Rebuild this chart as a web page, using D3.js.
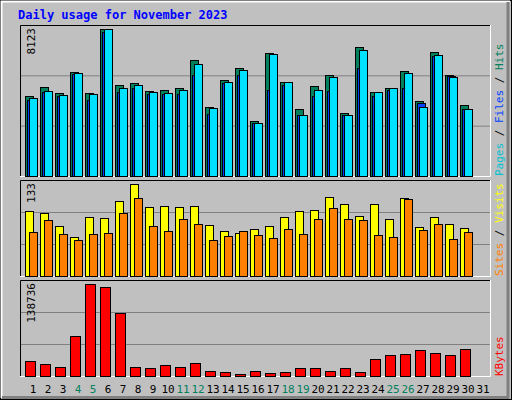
<!DOCTYPE html><html><head><script src="https://cdn.jsdelivr.net/npm/d3@7"></script>
<style>body{margin:0;background:#fff}</style></head><body><svg id="c" width="512" height="400"></svg><script>
const days=d3.range(1,32);
const weekend=[4,5,11,12,18,19,25,26];
const hits=[4421,4934,4586,5747,4586,8123,5029,5139,4697,4752,4863,6410,3813,5305,5968,3039,6797,5194,3702,4973,5581,3481,7128,4642,4863,5802,4144,6852,5581,3923];
const files=[4310,4697,4476,5692,4531,8123,4863,5029,4642,4586,4752,6189,3758,5194,5857,2929,6742,5194,3371,4752,5471,3371,6963,4642,4863,5692,3813,6686,5471,3702];
const pages=[4200,4640,4420,5640,4200,7970,4640,4860,4530,4530,4530,5580,3430,5140,5580,2930,4750,5030,3370,4420,4700,3370,5970,4420,4750,4860,4030,6630,5530,3700];
const visits=[94,91,72,56,85,84,108,133,100,101,100,101,74,65,62,68,72,85,94,95,114,104,87,104,82,113,71,85,75,69];
const sites=[64,81,61,52,61,62,91,113,72,65,82,75,52,58,65,59,55,68,61,82,98,82,81,59,56,111,67,75,54,64];
const kbytes=[22600,18100,13600,60300,138736,134200,95000,13600,12100,16600,13600,19600,7500,6000,3000,7500,4500,6000,12100,12100,7500,12100,6000,25600,31700,33200,39200,34700,31700,40700];
const svg=d3.select("#c");const F="DejaVu Sans Mono";
svg.append("rect").attr("width",512).attr("height",400).attr("fill","#c0c0c0");
svg.append("rect").attr("x",0.5).attr("y",0.5).attr("width",511).attr("height",399).attr("fill","none").attr("stroke","#000");
svg.append("path").attr("d","M1.5,398V1.5H510").attr("stroke","#fff").attr("stroke-width",2).attr("fill","none");
svg.append("path").attr("d","M2,397.5H508V2").attr("stroke","#808080").attr("stroke-width",3).attr("fill","none");
svg.append("text").attr("x",18).attr("y",19).attr("font-family",F).attr("font-weight","bold").attr("font-size",12).attr("fill","#0000ff").text("Daily usage for November 2023");
const x=d3.scaleLinear().domain([1,2]).range([25,40]);
function panel(y0,y1,max,series,lbl,labels){
 svg.append("rect").attr("x",20).attr("y",y0).attr("width",470).attr("height",y1-y0).attr("fill","#c0c0c0");
 svg.append("path").attr("d",`M20.5,${y1}V${y0+.5}H490`).attr("stroke","#000").attr("fill","none");
 svg.append("path").attr("d",`M20,${y1+.5}H490.5V${y0}`).attr("stroke","#fff").attr("fill","none");
 const h=y1-y0;
 [1,2].forEach(k=>svg.append("line").attr("x1",21).attr("x2",490).attr("y1",y0+h*k/3+.5).attr("y2",y0+h*k/3+.5).attr("stroke","#808080"));
 const y=d3.scaleLinear().domain([0,max]).range([y1,y0+4]);
 series.forEach(s=>{svg.append("g").selectAll("rect").data(s.v).join("rect")
  .attr("x",(d,i)=>x(i+1)+s.off+.5).attr("y",d=>Math.round(y(d))+.5).attr("width",s.w).attr("height",d=>y1-Math.round(y(d)))
  .attr("fill",s.c).attr("stroke","#000");});
 svg.append("text").attr("transform",`translate(35,${y0+3}) rotate(-90)`).attr("text-anchor","end").attr("font-family",F).attr("font-size",11).text(lbl);
 const t=svg.append("text").attr("transform",`translate(503,${y1}) rotate(-90)`).attr("font-family",F).attr("font-size",11);
 labels.forEach(l=>t.append("tspan").attr("fill",l[1]).text(l[0]));
}
panel(25,176,8123,[{v:hits,c:"#00805c",off:0,w:8},{v:pages,c:"#0040ff",off:2,w:8},{v:files,c:"#00e0ff",off:4,w:8}],"8123",[["Pages","#00c0d0"],[" / ","#000"],["Files","#0040ff"],[" / ","#000"],["Hits","#00805c"]]);
panel(180,276,133,[{v:visits,c:"#ffff00",off:0,w:8},{v:sites,c:"#ff8000",off:4,w:8}],"133",[["Sites","#ff8000"],[" / ","#000"],["Visits","#ffff00"]]);
panel(280,376,138736,[{v:kbytes,c:"#ff0000",off:0,w:10}],"138736",[["KBytes","#ff0000"]]);
svg.append("g").selectAll("text").data(days).join("text").attr("x",d=>x(d)+8).attr("y",393).attr("text-anchor","middle")
 .attr("font-family",F).attr("font-size",11).attr("fill",d=>weekend.includes(d)?"#00805c":"#000").text(d=>d);
</script></body></html>
